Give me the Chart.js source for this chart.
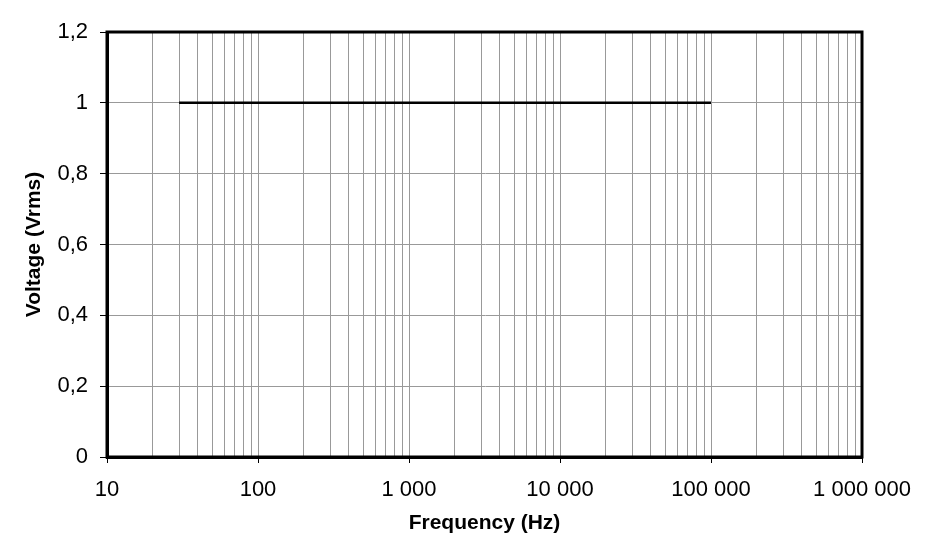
<!DOCTYPE html>
<html lang="en">
<head>
    <meta charset="UTF-8">
    <title>Voltage vs Frequency</title>
    <script src="https://cdn.jsdelivr.net/npm/chart.js"></script>
    <style>
        body { margin: 0; background: #fff; }
    </style>
</head>
<body>
    <canvas id="freqChart" width="929" height="558"></canvas>

    <script>
        // measured points (Hz, Vrms)
        const frequencies = [30, 100000];
        const voltages = [1, 1];

        const xMin = 10, xMax = 1000000;
        const yTicks = [0, 0.2, 0.4, 0.6, 0.8, 1, 1.2];

        // log ticks: 1..9 per decade, decades are the labelled ones
        function logTicks() {
            const ticks = [];
            for (let d = xMin; d < xMax; d *= 10) {
                for (let m = 1; m <= 9; m++) {
                    ticks.push({ value: d * m, major: m === 1 });
                }
            }
            ticks.push({ value: xMax, major: true });
            return ticks;
        }

        function fmtThousands(v) {
            return String(Math.round(v)).replace(/\B(?=(\d{3})+(?!\d))/g, ' ');
        }

        const frameBorder = {
            id: 'frameBorder',
            afterDraw(chart) {
                const a = chart.chartArea;
                const ctx = chart.ctx;
                ctx.save();
                ctx.strokeStyle = '#000';
                ctx.lineWidth = 3;
                ctx.strokeRect(a.left, a.top, a.right - a.left, a.bottom - a.top);
                ctx.restore();
            }
        };

        const ctx = document.getElementById('freqChart').getContext('2d');
        new Chart(ctx, {
            type: 'line',
            data: {
                datasets: [{
                    data: frequencies.map((f, i) => ({ x: f, y: voltages[i] })),
                    borderColor: '#000',
                    borderWidth: 2.5,
                    pointRadius: 0,
                    fill: false
                }]
            },
            options: {
                responsive: false,
                animation: false,
                layout: { padding: { left: 22, top: 32, right: 67, bottom: 22 } },
                plugins: {
                    legend: { display: false },
                    tooltip: { enabled: false }
                },
                scales: {
                    x: {
                        type: 'logarithmic',
                        min: xMin,
                        max: xMax,
                        afterBuildTicks: s => { s.ticks = logTicks(); },
                        afterFit: s => { s.height = 558 - 22 - 457; },
                        ticks: {
                            autoSkip: false,
                            maxRotation: 0,
                            padding: 14,
                            color: '#000',
                            font: { family: 'Liberation Sans', size: 22 },
                            callback: (v, i, ticks) => ticks[i].major ? fmtThousands(v) : ''
                        },
                        grid: {
                            color: '#999',
                            lineWidth: 1,
                            tickLength: 6,
                            tickColor: c => (c.tick && c.tick.major) ? '#000' : 'rgba(0,0,0,0)'
                        },
                        border: { color: '#000', width: 3 },
                        title: {
                            display: true,
                            text: 'Frequency (Hz)',
                            color: '#000',
                            padding: 0,
                            font: { family: 'Liberation Sans', size: 21, weight: 'bold' }
                        }
                    },
                    y: {
                        min: 0,
                        max: 1.2,
                        afterBuildTicks: s => { s.ticks = yTicks.map(v => ({ value: v })); },
                        afterFit: s => { s.width = 107 - 22; },
                        ticks: {
                            padding: 12,
                            color: '#000',
                            font: { family: 'Liberation Sans', size: 22 },
                            callback: v => String(Math.round(v * 10) / 10).replace('.', ',')
                        },
                        grid: {
                            color: '#999',
                            lineWidth: 1,
                            tickLength: 7,
                            tickColor: '#000'
                        },
                        border: { color: '#000', width: 3 },
                        title: {
                            display: true,
                            text: 'Voltage (Vrms)',
                            color: '#000',
                            padding: 0,
                            font: { family: 'Liberation Sans', size: 21, weight: 'bold' }
                        }
                    }
                }
            },
            plugins: [frameBorder]
        });
    </script>
</body>
</html>
